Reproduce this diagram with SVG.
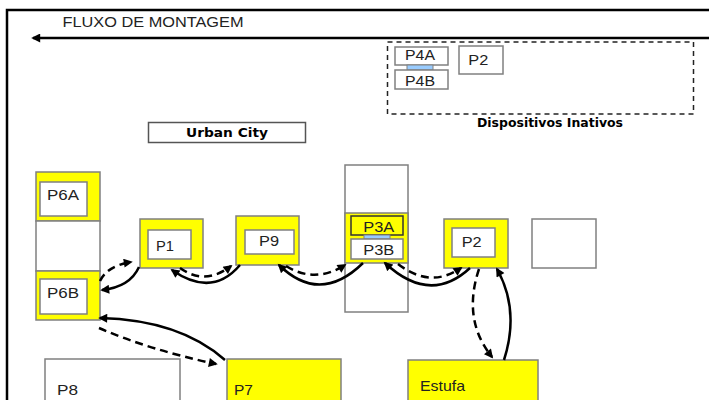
<svg xmlns="http://www.w3.org/2000/svg" width="709" height="400" viewBox="0 0 709 400">
<defs>
<marker id="ah" viewBox="0 0 10 10" refX="8" refY="5" markerWidth="10" markerHeight="9" markerUnits="userSpaceOnUse" orient="auto">
<path d="M0,0 L10,5 L0,10 z" fill="#000"/>
</marker>
<marker id="ah2" viewBox="0 0 10 10" refX="1" refY="5" markerWidth="9" markerHeight="8" markerUnits="userSpaceOnUse" orient="auto">
<path d="M0,5 L10,0 L10,10 z" fill="#000"/>
</marker>
</defs>
<style>
.box{stroke:#808080;stroke-width:1.5}
.y{fill:#ffff00}
.w{fill:#ffffff}
.bar{fill:#99ccff;stroke:#808080;stroke-width:1}
.lbl{font-family:"Liberation Sans",Arial,sans-serif;font-size:14.5px;fill:#222}
.bold{font-family:"DejaVu Sans",Verdana,sans-serif;font-weight:bold;fill:#000}
.c{fill:none;stroke:#000;stroke-width:2.5}
.d{fill:none;stroke:#000;stroke-width:2.5;stroke-dasharray:8 5}
</style>
<rect x="0" y="0" width="709" height="400" fill="#fff"/>
<g id="frame">
<path d="M7,400 L7,10 L709,10" fill="none" stroke="#000" stroke-width="2.5"/>
</g>
<g id="flow">
<text x="62.5" y="26.7" font-family="Liberation Sans, Arial, sans-serif" font-size="15" fill="#222" textLength="181" lengthAdjust="spacingAndGlyphs">FLUXO DE MONTAGEM</text>
<line x1="709" y1="38" x2="33" y2="38" stroke="#000" stroke-width="2.5" marker-end="url(#ah)"/>
</g>
<g id="inativos">
<rect x="387.5" y="42" width="306" height="72" fill="none" stroke="#222" stroke-width="1.5" stroke-dasharray="5 4"/>
<text x="477" y="127" class="bold" font-size="11.5" textLength="146" lengthAdjust="spacingAndGlyphs">Dispositivos Inativos</text>
</g>
<g id="P4A">
<rect x="395" y="47" width="53" height="18" class="box w"/>
<text x="405" y="59.5" class="lbl" textLength="30" lengthAdjust="spacingAndGlyphs">P4A</text>
</g>
<rect x="407" y="65" width="26" height="5" class="bar"/>
<g id="P4B">
<rect x="395" y="70" width="53" height="19" class="box w"/>
<text x="405" y="86" class="lbl" textLength="30" lengthAdjust="spacingAndGlyphs">P4B</text>
</g>
<g id="P2top">
<rect x="459" y="46" width="44" height="28" class="box w"/>
<text x="468.3" y="65" class="lbl" textLength="20" lengthAdjust="spacingAndGlyphs">P2</text>
</g>
<g id="urban">
<rect x="148.5" y="122.5" width="157" height="20" fill="#fff" stroke="#555" stroke-width="1.5"/>
<text x="186" y="136.7" class="bold" font-size="13" textLength="82" lengthAdjust="spacingAndGlyphs">Urban City</text>
</g>
<g id="P6">
<rect x="36" y="172" width="64" height="49" class="box y"/>
<rect x="36" y="221" width="64" height="50" class="box w"/>
<rect x="36" y="271" width="64" height="49" class="box y"/>
</g>
<g id="P6A">
<rect x="40" y="182" width="47" height="34" class="box w"/>
<text x="47" y="199.5" class="lbl" textLength="32" lengthAdjust="spacingAndGlyphs">P6A</text>
</g>
<g id="P6B">
<rect x="40" y="279" width="47" height="35" class="box w"/>
<text x="47" y="298" class="lbl" textLength="32" lengthAdjust="spacingAndGlyphs">P6B</text>
</g>
<g id="P1">
<rect x="140" y="219" width="63" height="49" class="box y"/>
<rect x="148" y="230" width="43" height="29" class="box w"/>
<text x="156" y="250.7" class="lbl" textLength="18" lengthAdjust="spacingAndGlyphs">P1</text>
</g>
<g id="P9">
<rect x="236" y="216" width="63" height="49" class="box y"/>
<rect x="245" y="230" width="49" height="24" class="box w"/>
<text x="259" y="246" class="lbl" textLength="20" lengthAdjust="spacingAndGlyphs">P9</text>
</g>
<g id="P3">
<rect x="345" y="165" width="63" height="147" class="box w"/>
<rect x="345" y="213" width="63" height="50" class="box y"/>
</g>
<g id="P3A">
<rect x="351" y="216" width="52" height="19" fill="#ffff00" stroke="#333" stroke-width="1.5"/>
<text x="363.3" y="231.7" class="lbl" textLength="31" lengthAdjust="spacingAndGlyphs">P3A</text>
</g>
<rect x="364" y="235" width="26" height="4" class="bar"/>
<g id="P3B">
<rect x="351" y="239" width="52" height="20" class="box w"/>
<text x="363.3" y="255" class="lbl" textLength="31" lengthAdjust="spacingAndGlyphs">P3B</text>
</g>
<g id="P2">
<rect x="444" y="219" width="64" height="49" class="box y"/>
<rect x="452" y="228" width="43" height="29" class="box w"/>
<text x="461.7" y="246.7" class="lbl" textLength="20" lengthAdjust="spacingAndGlyphs">P2</text>
</g>
<g id="empty">
<rect x="532" y="219" width="64" height="49" class="box w"/>
</g>
<g id="P8">
<rect x="45" y="359" width="135" height="50" class="box w"/>
<text x="57" y="395" class="lbl" textLength="21" lengthAdjust="spacingAndGlyphs">P8</text>
</g>
<g id="P7">
<rect x="227" y="359" width="114" height="50" class="box y"/>
<text x="234" y="395" class="lbl" textLength="19" lengthAdjust="spacingAndGlyphs">P7</text>
</g>
<g id="Estufa">
<rect x="408" y="360" width="130" height="50" class="box y"/>
<text x="420" y="391" class="lbl" textLength="45" lengthAdjust="spacingAndGlyphs">Estufa</text>
</g>
<g id="connectors">
<path d="M100,281 Q107,266 131,262" class="d" marker-end="url(#ah)"/>
<path d="M139,267 Q130,287 102,290" class="c" marker-end="url(#ah)"/>
<path d="M225,360 Q180,320 100,318" class="c" marker-end="url(#ah)"/>
<path d="M99,328 Q150,350 216,364" class="d" marker-end="url(#ah)"/>
<path d="M180,268 Q205,286 231,266" class="d" marker-end="url(#ah)"/>
<path d="M240,265 Q212,298 172,270" class="c" marker-end="url(#ah)"/>
<path d="M286,266 Q315,284 345,265" class="d" marker-end="url(#ah)"/>
<path d="M363,263 Q320,305 279,265" class="c" marker-end="url(#ah)"/>
<path d="M398,264 Q430,289 461,268" class="d" marker-end="url(#ah)"/>
<path d="M470,268 Q430,305 385,263" class="c" marker-end="url(#ah)"/>
<path d="M479,269 Q462,320 492,357" class="d" marker-end="url(#ah)"/>
<path d="M504,360 Q520,310 497,269" class="c" marker-end="url(#ah)"/>
</g>
</svg>
